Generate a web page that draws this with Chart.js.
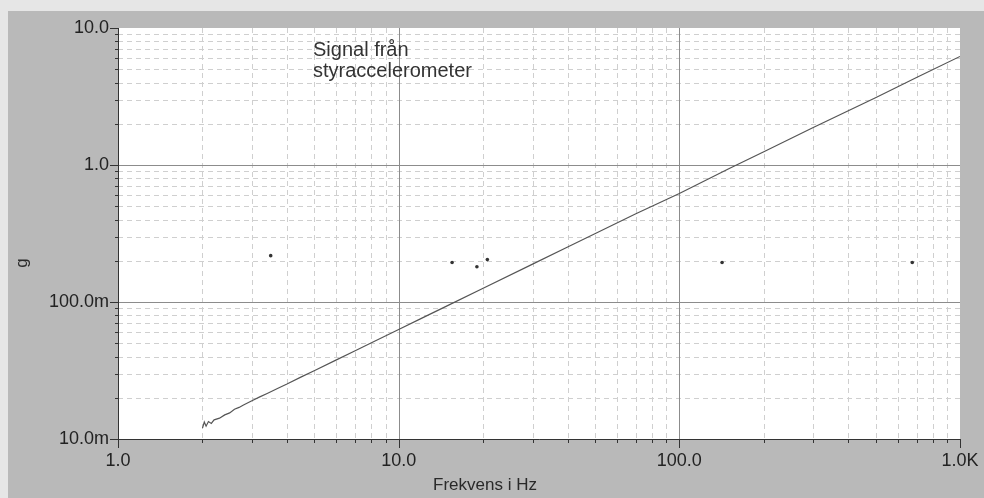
<!DOCTYPE html>
<html>
<head>
<meta charset="utf-8">
<script src="https://cdn.jsdelivr.net/npm/chart.js@4/dist/chart.umd.min.js"></script>
<style>
  html, body { margin: 0; padding: 0; background: #ededed; }
  #wrap { width: 984px; height: 498px; }
</style>
</head>
<body>
<div id="wrap"><canvas id="spectrum" width="984" height="498"></canvas></div>
<script>
// frekvens (Hz) och acceleration (g)
const freqHz = [2.0, 2.03, 2.06, 2.1, 2.15, 2.2, 2.3, 2.4, 2.5, 2.6, 2.7, 2.8, 3.0, 3.2, 3.4, 3.7,
    4.0, 4.5, 5, 6, 7, 8, 10, 12, 15, 20, 30, 40, 50, 70, 100, 150, 200, 300, 500, 700, 1000];
const accelG = [0.0120, 0.0133, 0.0124, 0.0134, 0.0130, 0.0138, 0.0142, 0.0150, 0.0155, 0.0165, 0.0170,
    0.0177, 0.0190, 0.0203, 0.0215, 0.0234, 0.0252, 0.0284, 0.0315, 0.0378, 0.0441, 0.0504, 0.063,
    0.0756, 0.0945, 0.126, 0.189, 0.252, 0.315, 0.441, 0.62, 0.94, 1.25, 1.88, 3.1, 4.35, 6.2];

// enstaka punkter
const dotFreq = [3.5, 15.5, 19.0, 20.7, 142, 676];
const dotG = [0.218, 0.194, 0.181, 0.204, 0.194, 0.194];

const xMajor = [1, 10, 100, 1000];
const xLabels = ['1.0', '10.0', '100.0', '1.0K'];
const yMajor = [0.01, 0.1, 1, 10];
const yLabels = ['10.0m', '100.0m', '1.0', '10.0'];

const FONT = '"Liberation Sans", Arial, sans-serif';

function withMinors(majors) {
    const out = [];
    majors.forEach((m, i) => {
        out.push({ value: m, major: true });
        if (i < majors.length - 1) {
            for (let k = 2; k <= 9; k++) out.push({ value: m * k, major: false });
        }
    });
    return out;
}

function isMajor(list, v) {
    return list.some(m => Math.abs(m - v) / m < 1e-6);
}

const paperPlugin = {
    id: 'paper',
    beforeDraw(chart) {
        const { ctx, chartArea: a } = chart;
        ctx.save();
        ctx.fillStyle = '#e6e6e6';
        ctx.fillRect(0, 0, chart.width, chart.height);
        ctx.fillStyle = '#b9b9b9';
        ctx.fillRect(8, 11, chart.width - 8, chart.height - 11);
        ctx.fillStyle = '#ffffff';
        ctx.fillRect(a.left, a.top, a.right - a.left, a.bottom - a.top);
        ctx.restore();
    },
    beforeDatasetsDraw(chart) {
        const { ctx, chartArea: a, scales: { x, y } } = chart;
        ctx.save();
        ctx.lineWidth = 1;
        // minor grid, dashed
        ctx.strokeStyle = '#cfcfcf';
        ctx.setLineDash([5, 4]);
        x.ticks.forEach(t => {
            if (isMajor(xMajor, t.value)) return;
            const px = Math.round(x.getPixelForValue(t.value)) + 0.5;
            ctx.beginPath(); ctx.moveTo(px, a.top); ctx.lineTo(px, a.bottom); ctx.stroke();
        });
        y.ticks.forEach(t => {
            if (isMajor(yMajor, t.value)) return;
            const py = Math.round(y.getPixelForValue(t.value)) + 0.5;
            ctx.beginPath(); ctx.moveTo(a.left, py); ctx.lineTo(a.right, py); ctx.stroke();
        });
        // major grid, solid
        ctx.setLineDash([]);
        ctx.strokeStyle = '#8c8c8c';
        xMajor.slice(1, -1).forEach(v => {
            const px = Math.round(x.getPixelForValue(v)) + 0.5;
            ctx.beginPath(); ctx.moveTo(px, a.top); ctx.lineTo(px, a.bottom); ctx.stroke();
        });
        yMajor.slice(1, -1).forEach(v => {
            const py = Math.round(y.getPixelForValue(v)) + 0.5;
            ctx.beginPath(); ctx.moveTo(a.left, py); ctx.lineTo(a.right, py); ctx.stroke();
        });
        ctx.restore();
    },
    afterDraw(chart) {
        const { ctx, chartArea: a, scales: { x, y } } = chart;
        ctx.save();
        // axis lines and outward tick marks
        ctx.strokeStyle = '#333';
        ctx.lineWidth = 1;
        ctx.beginPath();
        ctx.moveTo(a.left + 0.5, a.top); ctx.lineTo(a.left + 0.5, a.bottom + 0.5);
        ctx.lineTo(a.right, a.bottom + 0.5);
        ctx.stroke();
        x.ticks.forEach(t => {
            const px = Math.round(x.getPixelForValue(t.value)) + 0.5;
            const len = isMajor(xMajor, t.value) ? 9 : 4;
            ctx.beginPath(); ctx.moveTo(px, a.bottom); ctx.lineTo(px, a.bottom + len); ctx.stroke();
        });
        y.ticks.forEach(t => {
            const py = Math.round(y.getPixelForValue(t.value)) + 0.5;
            const len = isMajor(yMajor, t.value) ? 8 : 3;
            ctx.beginPath(); ctx.moveTo(a.left, py); ctx.lineTo(a.left - len, py); ctx.stroke();
        });

        // axeltitlar
        ctx.fillStyle = '#2a2a2a';
        ctx.font = '17px ' + FONT;
        ctx.textAlign = 'center';
        ctx.textBaseline = 'middle';
        ctx.fillText('Frekvens i Hz', 485, 485);
        ctx.translate(22, 263);
        ctx.rotate(-Math.PI / 2);
        ctx.fillText('g', 0, 0);
        ctx.setTransform(1, 0, 0, 1, 0, 0);

        // etikett i diagrammet
        ctx.font = '20px ' + FONT;
        ctx.textAlign = 'left';
        ctx.textBaseline = 'alphabetic';
        ctx.fillStyle = '#333';
        ctx.fillText('Signal från', 313, 56);
        ctx.fillText('styraccelerometer', 313, 77);
        ctx.restore();
    }
};

document.addEventListener('DOMContentLoaded', function () {
    const lineData = freqHz.map((f, i) => ({ x: f, y: accelG[i] }));
    const dotData = dotFreq.map((f, i) => ({ x: f, y: dotG[i] }));

    const chartConfig = {
        type: 'scatter',
        data: {
            datasets: [
                {
                    label: 'Signal',
                    data: lineData,
                    showLine: true,
                    borderColor: '#555555',
                    borderWidth: 1.2,
                    pointRadius: 0,
                    tension: 0,
                },
                {
                    label: 'Punkter',
                    data: dotData,
                    pointRadius: 1.8,
                    pointBackgroundColor: '#333',
                    pointBorderWidth: 0,
                },
            ],
        },
        options: {
            responsive: false,
            animation: false,
            layout: { padding: { left: 0, top: 28, right: 24, bottom: 0 } },
            plugins: {
                legend: { display: false },
                tooltip: { enabled: false },
            },
            scales: {
                x: {
                    type: 'logarithmic',
                    min: 1,
                    max: 1000,
                    grid: { display: false, drawTicks: false },
                    border: { display: false },
                    afterBuildTicks: scale => { scale.ticks = withMinors(xMajor); },
                    afterFit: scale => {
                        scale.height = 59;
                        scale.paddingLeft = 0;
                        scale.paddingRight = 0;
                    },
                    ticks: {
                        autoSkip: false,
                        maxRotation: 0,
                        padding: 11,
                        color: '#222',
                        font: { family: FONT, size: 18 },
                        callback: function (value) {
                            const i = xMajor.findIndex(m => Math.abs(m - value) / m < 1e-6);
                            return i >= 0 ? xLabels[i] : '';
                        },
                    },
                },
                y: {
                    type: 'logarithmic',
                    min: 0.01,
                    max: 10,
                    grid: { display: false, drawTicks: false },
                    border: { display: false },
                    afterBuildTicks: scale => { scale.ticks = withMinors(yMajor); },
                    afterFit: scale => {
                        scale.width = 118;
                        scale.paddingTop = 0;
                        scale.paddingBottom = 0;
                    },
                    ticks: {
                        autoSkip: false,
                        padding: 9,
                        color: '#222',
                        font: { family: FONT, size: 18 },
                        callback: function (value) {
                            const i = yMajor.findIndex(m => Math.abs(m - value) / m < 1e-6);
                            return i >= 0 ? yLabels[i] : '';
                        },
                    },
                },
            },
        },
        plugins: [paperPlugin],
    };

    new Chart(document.getElementById('spectrum'), chartConfig);
});
</script>
</body>
</html>
